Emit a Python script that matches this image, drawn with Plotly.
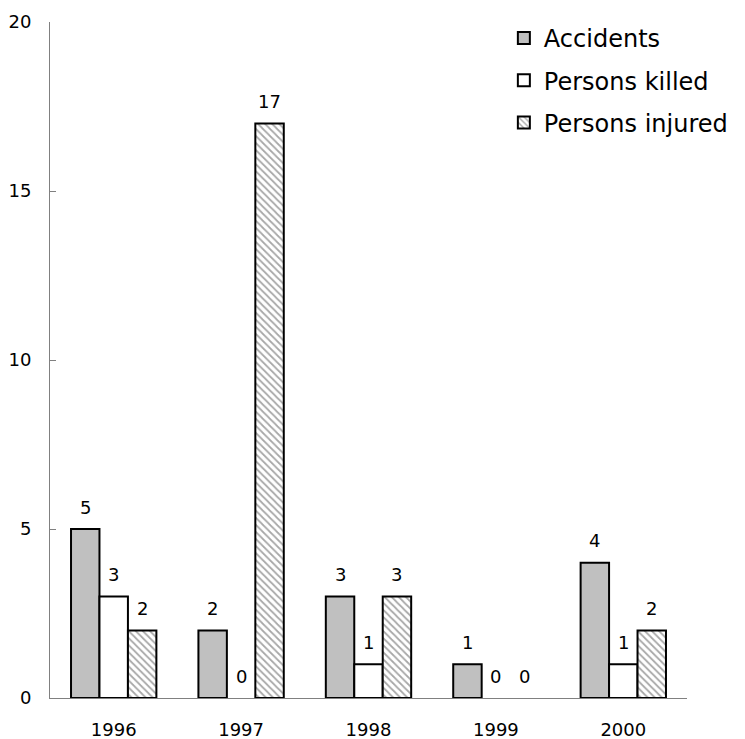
import plotly.graph_objects as go

years = ["1996", "1997", "1998", "1999", "2000"]
accidents = [5, 2, 3, 1, 4]
killed = [3, 0, 1, 0, 1]
injured = [2, 17, 3, 0, 2]
series_names = ["Accidents", "Persons killed", "Persons injured"]
y_ticks = [0, 5, 10, 15, 20]

FONT = "DejaVu Sans"
bargap = 0.33


def lw(vals):
    return [2 if v else 0 for v in vals]


fig = go.Figure()
fig.add_trace(go.Bar(x=years, y=accidents, name=series_names[0], legendgroup="a",
                     marker=dict(color="#c0c0c0", line=dict(color="black", width=lw(accidents)))))
fig.add_trace(go.Bar(x=years, y=killed, name=series_names[1], legendgroup="b",
                     marker=dict(color="white", line=dict(color="black", width=lw(killed)))))
fig.add_trace(go.Bar(x=years, y=injured, name=series_names[2], legendgroup="c",
                     marker=dict(color="white", line=dict(color="black", width=lw(injured)),
                                 pattern=dict(shape="\\", fgcolor="#505050", bgcolor="white",
                                              size=5, solidity=0.35))))

# value labels above bars
n = 3
bw = (1 - bargap) / n
for si, vals in enumerate([accidents, killed, injured]):
    off = (si - (n - 1) / 2) * bw
    for i, v in enumerate(vals):
        fig.add_annotation(x=i + off, y=v, xref="x", yref="y", text=str(v),
                           showarrow=False, yshift=22,
                           font=dict(family=FONT, size=18, color="black"))

fig.update_layout(
    width=745, height=739,
    margin=dict(l=50, r=55, t=22, b=41),
    plot_bgcolor="white", paper_bgcolor="white",
    barmode="group", bargap=bargap, bargroupgap=0,
    font=dict(family=FONT, size=18, color="black"),
    legend=dict(x=0.7125, y=1.009, xanchor="left", yanchor="top",
                font=dict(family=FONT, size=24, color="black"),
                traceorder="grouped", tracegroupgap=8,
                bgcolor="rgba(0,0,0,0)", itemwidth=30),
    xaxis=dict(type="category", range=[-0.5, 4.5], showline=True, linecolor="#808080",
               linewidth=1, ticks="", showgrid=False, ticklabelstandoff=15,
               tickfont=dict(size=18), automargin=False),
    yaxis=dict(range=[0, 20], tickvals=y_ticks, showline=True, linecolor="#808080",
               linewidth=1, ticks="inside", ticklen=6, tickcolor="#808080",
               showgrid=False, zeroline=False, ticklabelstandoff=14,
               tickfont=dict(size=18), automargin=False),
)

fig.write_html("out.html", config={"displayModeBar": False},
               post_script="document.body.style.margin='0';")
